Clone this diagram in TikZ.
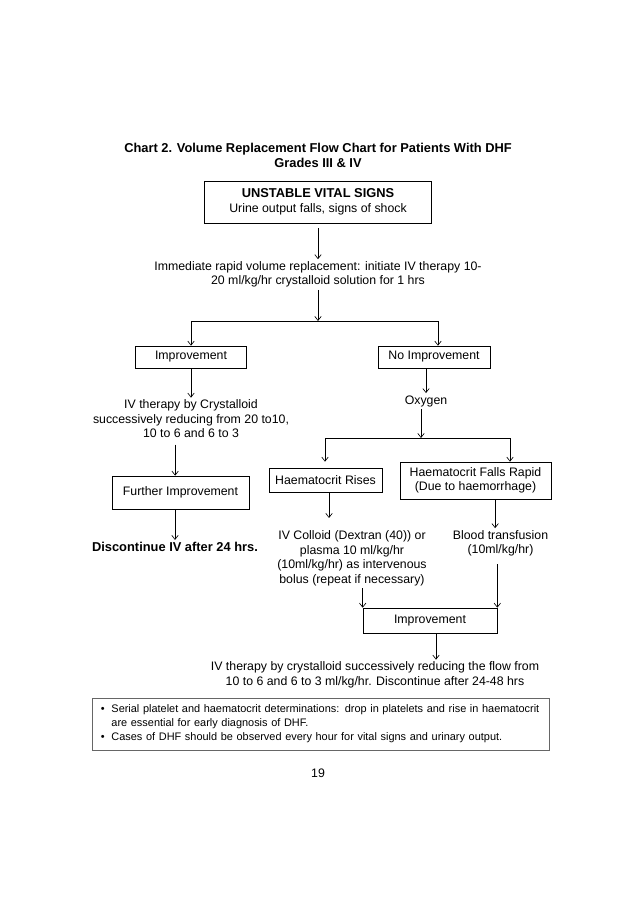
\documentclass[tikz,border=0pt]{standalone}
\usepackage{fontspec}
\setmainfont{Liberation Sans}
\usetikzlibrary{arrows.meta}
\tikzset{
    box/.style={draw, line width=0.6pt, inner sep=0pt, align=center},
    arr/.style={-{Straight Barb[length=3.8pt,width=6pt]}, line width=0.6pt},
    line/.style={line width=0.6pt},
    txt/.style={align=center, inner sep=2pt},
    bold/.style={font=\fontsize{12}{14}\selectfont\bfseries},
}

\begin{document}
\begin{tikzpicture}[x=0.9329pt, y=-0.9329pt, font=\fontsize{11.5}{13.5}\selectfont]
        \useasboundingbox (0,0) rectangle (638,902);
        %title
        \node[txt, bold] (title) at (318,155)
            {Chart 2. Volume Replacement Flow Chart for Patients With DHF\\Grades III \& IV};
        %draw boxes and texts
        \node[box, minimum width=211.8pt, minimum height=39.2pt] (unstable) at (318,202)
            {{\fontsize{12}{14}\selectfont\bfseries UNSTABLE VITAL SIGNS}\\Urine output falls, signs of shock};
        \node[txt] (immed) at (318,274.5)
            {Immediate rapid volume replacement: initiate IV therapy 10-\\20 ml/kg/hr crystalloid solution for 1 hrs};
        \node[box, minimum width=103.6pt, minimum height=20.5pt] (improve) at (191,357) {Improvement};
        \node[box, minimum width=104.5pt, minimum height=20.5pt] (noimp) at (434,357) {No Improvement};
        \node[txt] (ivcry) at (191,419)
            {IV therapy by Crystalloid\\successively reducing from 20 to10,\\10 to 6 and 6 to 3};
        \node[txt] (oxygen) at (426,401) {Oxygen};
        \node[box, minimum width=127.8pt, minimum height=30.8pt] (furth) at (180.5,492.5) {Further Improvement};
        \node[box, minimum width=105.4pt, minimum height=22.4pt] (rises) at (325.5,480) {Haematocrit Rises};
        \node[box, minimum width=140.9pt, minimum height=34.5pt] (falls) at (475.5,480.5)
            {Haematocrit Falls Rapid\\(Due to haemorrhage)};
        \node[txt, bold] (disc) at (175,547) {Discontinue IV after 24 hrs.};
        \node[txt] (colloid) at (352,558.5)
            {IV Colloid (Dextran (40)) or\\plasma 10 ml/kg/hr\\(10ml/kg/hr) as intervenous\\bolus (repeat if necessary)};
        \node[txt] (blood) at (500.5,543.5) {Blood transfusion\\(10ml/kg/hr)};
        \node[box, minimum width=125pt, minimum height=23.3pt] (improve2) at (430,620.5) {Improvement};
        \node[txt] (final) at (375,675)
            {IV therapy by crystalloid successively reducing the flow from\\10 to 6 and 6 to 3 ml/kg/hr. Discontinue after 24-48 hrs};
        %junctions
        \coordinate (j1) at (318,321);
        \coordinate (j1l) at (191,321);
        \coordinate (j1r) at (438,321);
        \coordinate (j2) at (421,438);
        \coordinate (j2l) at (325,438);
        \coordinate (j2r) at (510,438);
        %draw connectors
        \draw[arr, shorten <=4.5pt] (unstable.south) -- (immed.north);
        \draw[arr] (immed.south) -- (j1);
        \draw[line] (j1l) -- (j1r);
        \draw[arr] (j1l) -- (j1l |- improve.north);
        \draw[arr] (j1r) -- (j1r |- noimp.north);
        \draw[arr] (improve.south) -- (ivcry.north);
        \draw[arr] (oxygen.north |- noimp.south) -- (oxygen.north);
        \draw[arr] (oxygen.south -| j2) -- (j2);
        \draw[line] (j2l) -- (j2r);
        \draw[arr] (j2l) -- (j2l |- falls.north);
        \draw[arr] (j2r) -- (j2r |- falls.north);
        \draw[arr, shorten <=4pt] ([xshift=-5pt]furth.north |- ivcry.south) -- ([xshift=-5pt]furth.north);
        \draw[arr] (furth.south -| disc.north) -- (disc.north);
        \draw[arr, shorten >=10pt] ([xshift=3.3pt]rises.south) -- ([xshift=3.3pt]rises.south |- colloid.north);
        \draw[arr] ([xshift=-5pt]blood.north |- falls.south) -- ([xshift=-5pt]blood.north);
        \draw[arr] (improve2.north west |- colloid.south) -- (improve2.north west);
        \draw[arr, shorten <=5pt] (improve2.north east |- blood.south) -- (improve2.north east);
        \draw[arr] ([xshift=5.6pt]improve2.south) -- ([xshift=5.6pt]improve2.south |- final.north);
        %notes box
        \node[draw=black!60, line width=0.6pt, minimum width=426.3pt, minimum height=48.5pt,
            text width=420pt, align=left, inner xsep=3pt, inner ysep=4pt, font=\fontsize{10.2}{13}\selectfont] (notes) at (320.5,724)
            {\makebox[14pt][c]{\textbullet}\hspace{1pt}Serial platelet and haematocrit determinations: drop in platelets and rise in haematocrit\\
             \hspace*{15pt}are essential for early diagnosis of DHF.\\
             \makebox[14pt][c]{\textbullet}\hspace{1pt}Cases of DHF should be observed every hour for vital signs and urinary output.};
        %page number
        \node[txt] (page) at (318,773) {19};
    \end{tikzpicture}
\end{document}
